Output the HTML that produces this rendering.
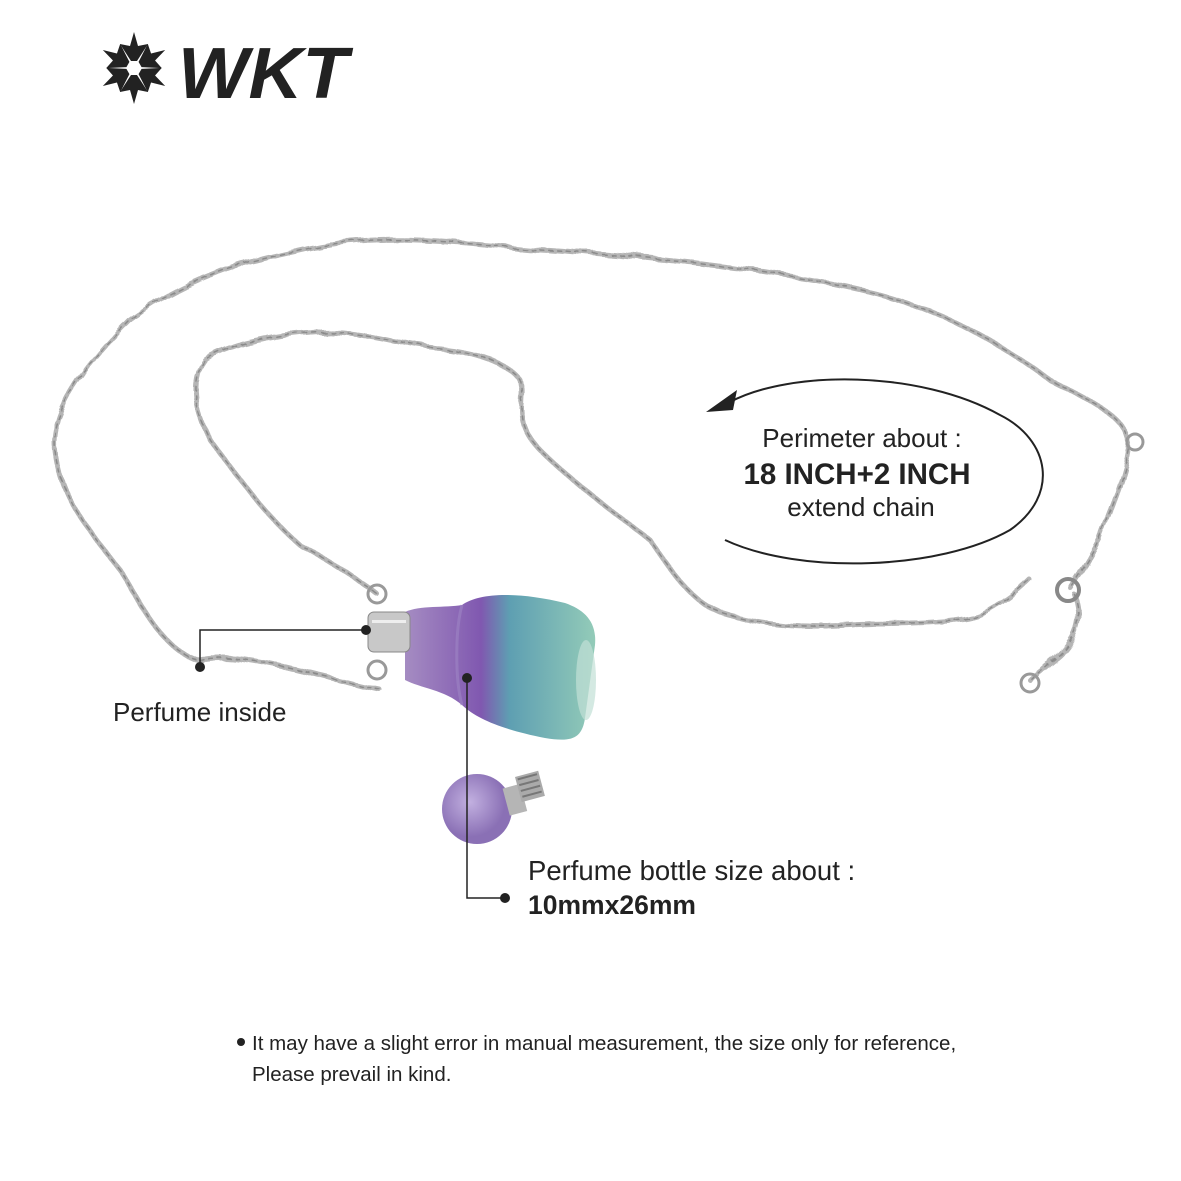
<!DOCTYPE html>
<html><head><style>
html,body{margin:0;padding:0;background:#fff;}
svg{display:block;}
text{font-family:"Liberation Sans",Arial,sans-serif;}
</style></head><body>
<svg width="1181" height="1181" viewBox="0 0 1181 1181" xmlns="http://www.w3.org/2000/svg">
<defs>
<filter id="w" x="-5%" y="-5%" width="110%" height="110%">
<feTurbulence type="fractalNoise" baseFrequency="0.035" numOctaves="2" seed="3"/>
<feDisplacementMap in="SourceGraphic" scale="8"/>
</filter>
<linearGradient id="g" x1="0" y1="0" x2="1" y2="0">
<stop offset="0" stop-color="#a58cc2"/><stop offset="0.4" stop-color="#8058b0"/>
<stop offset="0.55" stop-color="#5e9fb2"/><stop offset="1" stop-color="#93cbb8"/>
</linearGradient>
<radialGradient id="b" cx="0.4" cy="0.4"><stop offset="0" stop-color="#c2b0e0"/><stop offset="1" stop-color="#8a70b5"/></radialGradient>
</defs>
<rect width="1181" height="1181" fill="#fff"/>
<!-- logo -->
<g transform="translate(134,68)" fill="#222">
  <g id="p"><path d="M-3,-7 L-14,-24 L-4,-22 L0,-36 L4,-22 L14,-24 L3,-7 Z"/></g>
  <use href="#p" transform="rotate(60)"/><use href="#p" transform="rotate(120)"/>
  <use href="#p" transform="rotate(180)"/><use href="#p" transform="rotate(240)"/><use href="#p" transform="rotate(300)"/>
</g>
<text x="178" y="98" font-size="72" font-weight="bold" font-style="italic" fill="#222" textLength="170" lengthAdjust="spacingAndGlyphs">WKT</text>
<!-- chain -->
<g fill="none" stroke-linecap="round" filter="url(#w)">
<g stroke="#b5b5b5" stroke-width="5" stroke-dasharray="7 2">
<path id="c1" d="M380,690 C330,680 240,650 200,660 C160,650 140,600 120,570 C90,530 60,500 55,450 C50,410 90,360 130,320 C170,290 220,270 250,262 C300,250 340,240 380,240 C450,238 500,248 550,250 C620,255 700,262 750,270 C820,280 870,290 900,300 C960,320 1010,350 1050,380 C1090,400 1130,420 1130,445 C1125,480 1110,510 1100,540 C1090,560 1080,575 1070,590"/>
<path id="c2" d="M375,592 C350,575 330,560 300,545 C270,520 240,480 210,440 C195,410 190,380 205,360 C230,345 270,335 320,332 C360,330 400,345 440,348 C480,352 510,365 520,380 C525,400 510,420 540,450 C570,480 610,510 650,540 C670,570 690,600 720,612 C760,625 800,628 850,625 C900,622 950,625 980,615 C1000,605 1015,595 1030,580"/>
<path id="c3" d="M1075,595 C1085,620 1075,640 1060,655 C1045,668 1035,675 1030,680"/>
</g>
<g stroke="#8a8a8a" stroke-width="1.5" stroke-dasharray="4 5">
<use href="#c1"/><use href="#c2"/><use href="#c3"/>
</g>
</g>
<circle cx="1135" cy="442" r="8" fill="none" stroke="#999" stroke-width="3"/>
<circle cx="1068" cy="590" r="11" fill="none" stroke="#888" stroke-width="4"/>
<circle cx="1030" cy="683" r="9" fill="none" stroke="#999" stroke-width="3"/>
<!-- bottle -->
<path d="M405,612 C420,605 445,608 462,605 C480,592 520,592 565,603 C585,610 597,622 595,645 L585,718 C582,740 570,742 545,738 C505,730 478,720 462,705 C445,690 420,688 405,680 Z" fill="url(#g)"/>
<path d="M462,605 C455,630 455,680 462,705" fill="none" stroke="#9e86c4" stroke-width="3" opacity="0.6"/>
<ellipse cx="586" cy="680" rx="10" ry="40" fill="#c2e0d5" opacity="0.7"/>
<rect x="368" y="612" width="42" height="40" rx="6" fill="#c8c8c8" stroke="#888"/>
<rect x="372" y="620" width="34" height="3" fill="#eee"/>
<circle cx="377" cy="594" r="9" fill="none" stroke="#999" stroke-width="3"/>
<circle cx="377" cy="670" r="9" fill="none" stroke="#999" stroke-width="3"/>
<circle cx="477" cy="809" r="35" fill="url(#b)"/>
<g transform="rotate(-15 525 795)">
<rect x="505" y="783" width="18" height="28" fill="#b5b5b5"/>
<rect x="520" y="775" width="24" height="26" fill="#aaa"/>
<path d="M522,778 H542 M522,784 H542 M522,790 H542 M522,796 H542" stroke="#777" stroke-width="2"/>
</g>
<!-- callouts -->
<g stroke="#222" stroke-width="1.5" fill="none">
<path d="M366,630 H200 V667"/>
<path d="M467,678 V898 H505"/>
</g>
<circle cx="366" cy="630" r="5" fill="#222"/>
<circle cx="200" cy="667" r="5" fill="#222"/>
<circle cx="467" cy="678" r="5" fill="#222"/>
<circle cx="505" cy="898" r="5" fill="#222"/>
<text x="113" y="721" font-size="26" fill="#222">Perfume inside</text>
<text x="528" y="880" font-size="27.5" fill="#222">Perfume bottle size about :</text>
<text x="528" y="914" font-size="26.5" font-weight="bold" fill="#222">10mmx26mm</text>
<!-- ellipse arrow -->
<path d="M725,540 C800,575 940,570 1010,530 C1060,495 1050,440 1000,415 C920,370 790,370 730,402" fill="none" stroke="#222" stroke-width="2"/>
<path d="M706,412 L737,390 L733,410 Z" fill="#222"/>
<text x="862" y="447" font-size="26" fill="#222" text-anchor="middle">Perimeter about :</text>
<text x="857" y="484" font-size="29.5" font-weight="bold" fill="#222" text-anchor="middle">18 INCH+2 INCH</text>
<text x="861" y="516" font-size="26" fill="#222" text-anchor="middle">extend chain</text>
<!-- note -->
<circle cx="241" cy="1042" r="4" fill="#222"/>
<text x="252" y="1050" font-size="20.5" fill="#222">It may have a slight error in manual measurement, the size only for reference,</text>
<text x="252" y="1081" font-size="20.5" fill="#222">Please prevail in kind.</text>
</svg>
</body></html>
